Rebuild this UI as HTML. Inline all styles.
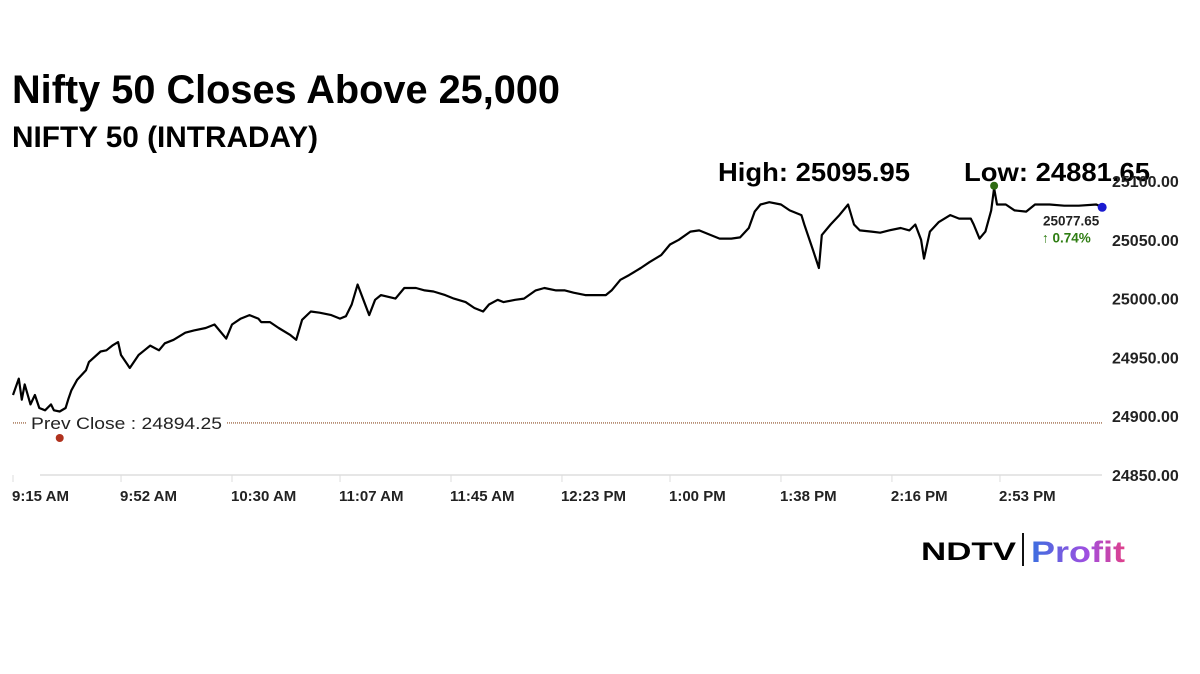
<!DOCTYPE html>
<html><head><meta charset="utf-8"><style>
html,body{margin:0;padding:0;background:#fff;width:1200px;height:674px;overflow:hidden}
svg{display:block;font-family:"Liberation Sans",sans-serif}
</style></head><body>
<svg id="chart" width="1200" height="674" viewBox="0 0 1200 674">
<defs><linearGradient id="pg" x1="0" x2="1"><stop offset="0" stop-color="#3b6fe0"/><stop offset="0.6" stop-color="#a04ee0"/><stop offset="1" stop-color="#e0408a"/></linearGradient></defs>
<text x="12" y="103" font-size="40" font-weight="bold" textLength="548" lengthAdjust="spacingAndGlyphs">Nifty 50 Closes Above 25,000</text>
<text x="12" y="147" font-size="30" font-weight="bold" textLength="306" lengthAdjust="spacingAndGlyphs">NIFTY 50 (INTRADAY)</text>
<text x="718" y="181" font-size="26" font-weight="bold" textLength="192" lengthAdjust="spacingAndGlyphs">High: 25095.95</text>
<text x="964" y="181" font-size="26" font-weight="bold" textLength="186" lengthAdjust="spacingAndGlyphs">Low: 24881.65</text>
<line x1="40" y1="475" x2="1102" y2="475" stroke="#ddd" stroke-width="1.5"/>
<g id="yaxis"></g>
<g id="xaxis"></g>
<g id="plot"></g>
<text x="921" y="560" font-size="25" font-weight="900" textLength="95" lengthAdjust="spacingAndGlyphs">NDTV</text>
<line x1="1023" y1="533" x2="1023" y2="566" stroke="#111" stroke-width="2"/>
<text x="1031" y="562" font-size="30" font-weight="bold" fill="url(#pg)" textLength="94" lengthAdjust="spacingAndGlyphs">Profit</text>
</svg>
<script>
const times=[0,2,3,4,6,7.5,9,11,13,14,16,18,19,20,22,25,26,30,32,34,36,37,40,43,45,47,50,52,55,59,62,66,69,73,75,78,81,84,85,88,91,95,97,99,102,105,109,112,114,116,118,120,122,124,126,131,134,138,141,144,148,151,155,158,161,163,166,168,172,175,179,182,186,189,192,196,199,203,205,208,211,215,218,222,225,228,232,235,239,242,246,249,252,254,256,259,263,266,270,271,274,276,277,280,283,286,288,290,294,297,300,304,307,309,311,312,314,317,321,324,328,329,331,333,335,336,337,340,343,347,350,355,360,365,371,373];
const values=[24918,24932,24914,24927,24910,24918,24907,24905,24910,24905,24904,24907,24915,24922,24931,24939,24946,24955,24956,24960,24963,24952,24941,24952,24956,24960,24956,24962,24965,24971,24973,24975,24978,24966,24978,24983,24986,24983,24980,24980,24975,24969,24965,24982,24989,24988,24986,24983,24985,24995,25012,24999,24986,24999,25003,25000,25009,25009,25007,25006,25003,25000,24997,24992,24989,24995,24999,24997,24999,25000,25007,25009,25007,25007,25005,25003,25003,25003,25007,25016,25020,25026,25031,25037,25046,25050,25057,25058,25054,25051,25051,25052,25060,25074,25080,25082,25080,25075,25071,25063,25041,25026,25054,25063,25071,25080,25063,25058,25057,25056,25058,25060,25058,25063,25050,25034,25057,25065,25071,25068,25068,25063,25051,25057,25075,25094,25080,25080,25075,25074,25080,25080,25079,25079,25080,25077.65];
const yTicks=[24850,24900,24950,25000,25050,25100];
const xTickMinutes=[0,37,75,112,150,188,225,263,301,338];
const xTickLabels=["9:15 AM","9:52 AM","10:30 AM","11:07 AM","11:45 AM","12:23 PM","1:00 PM","1:38 PM","2:16 PM","2:53 PM"];
const prevClose=24894.25;
const highVal=25095.95, highTime=336;
const lastVal=25077.65, lastTime=373, changePct=0.74;
const lowMarkerTime=16;

const NS="http://www.w3.org/2000/svg";
const X=m=>13+m*2.92;
const Y=v=>475-(v-24850)*1.176;
function mk(tag,attrs,parent,txt){const e=document.createElementNS(NS,tag);for(const k in attrs)e.setAttribute(k,attrs[k]);if(txt!==undefined)e.textContent=txt;parent.appendChild(e);return e;}
const ya=document.getElementById('yaxis'),xa=document.getElementById('xaxis'),pl=document.getElementById('plot');
yTicks.forEach(v=>{
  const t=mk('text',{x:1112,y:Y(v)+6,'font-size':16,'font-weight':'bold',fill:'#222'},ya,v.toFixed(2));
  
  
});
xTickMinutes.forEach((m,i)=>{
  const l=mk('line',{x1:X(m),y1:475,x2:X(m),y2:482,stroke:'#ddd'},xa);
  
  
  const t=mk('text',{x:X(m)-1,y:501,'font-size':15,'font-weight':'bold',fill:'#222'},xa,xTickLabels[i]);
  
  
});
const pcLine=mk('line',{x1:X(0),y1:Y(prevClose),x2:X(375)-6,y2:Y(prevClose),stroke:'#8a4a22','stroke-width':1.2,'stroke-dasharray':'1 1'},pl);


mk('rect',{x:26,y:Y(prevClose)-10,width:200,height:20,fill:'#fff'},pl);
const pcT=mk('text',{x:31,y:Y(prevClose)+6,'font-size':17,fill:'#222',textLength:191,lengthAdjust:'spacingAndGlyphs'},pl,'Prev Close : '+prevClose.toFixed(2));


let d='';times.forEach((t,i)=>{d+=(i?'L':'M')+X(t).toFixed(1)+' '+Y(values[i]).toFixed(1);});
const line=mk('path',{d:d,fill:'none',stroke:'#000','stroke-width':2.2,'stroke-linejoin':'round'},pl);


const lowDot=mk('circle',{cx:X(lowMarkerTime),cy:438,r:4,fill:'#b0321e'},pl);


const hiDot=mk('circle',{cx:X(highTime),cy:Y(highVal),r:4,fill:'#2e6b12'},pl);


const lastDot=mk('circle',{cx:X(lastTime),cy:Y(lastVal),r:4.5,fill:'#1a1ad0'},pl);


const lv=mk('text',{x:1043,y:Y(lastVal)+18,'font-size':13.5,'font-weight':'bold',fill:'#222'},pl,lastVal.toFixed(2));


const ch=mk('text',{x:1042,y:Y(lastVal)+35,'font-size':13.5,'font-weight':'bold',fill:'#2e7d12'},pl,'↑ '+changePct.toFixed(2)+'%');


</script>
</body></html>
